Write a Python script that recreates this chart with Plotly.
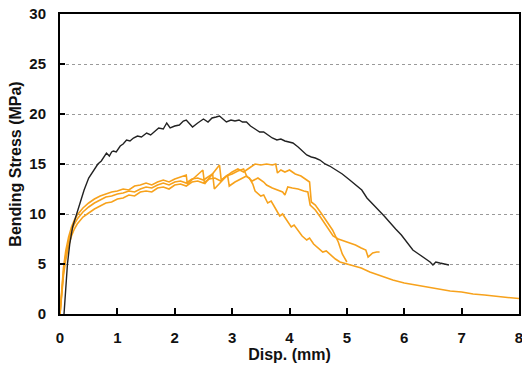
import plotly.graph_objects as go

# Black specimen curve
bx = [0.07,0.10,0.13,0.17,0.22,0.29,0.35,0.42,0.50,0.58,0.66,0.72,0.78,0.81,0.86,0.90,0.93,0.98,1.05,1.10,1.16,1.22,1.28,1.35,1.42,1.51,1.58,1.65,1.72,1.80,1.86,1.92,2.00,2.08,2.15,2.20,2.26,2.31,2.40,2.50,2.58,2.65,2.72,2.78,2.84,2.90,2.98,3.05,3.12,3.18,3.25,3.32,3.40,3.48,3.55,3.62,3.70,3.78,3.85,3.92,4.00,4.06,4.15,4.22,4.30,4.38,4.45,4.53,4.62,4.70,4.82,4.92,5.05,5.15,5.26,5.35,5.44,5.55,5.65,5.75,5.85,5.95,6.05,6.15,6.25,6.35,6.45,6.50,6.55,6.62,6.70,6.78]
by = [0.0,2.5,5.0,7.0,8.7,10.0,11.2,12.4,13.6,14.3,15.0,15.3,15.8,16.1,15.8,16.2,16.3,16.2,16.8,17.0,17.4,17.3,17.6,17.8,17.7,18.1,17.9,18.3,18.6,18.5,19.1,18.6,18.8,18.9,19.3,19.4,19.0,18.7,19.1,19.5,19.2,19.6,19.7,19.8,19.5,19.2,19.4,19.3,19.4,19.2,19.2,18.8,18.5,18.2,18.2,17.9,17.6,17.4,17.5,17.3,17.2,17.1,16.7,16.3,15.9,15.7,15.6,15.4,15.0,14.8,14.4,14.0,13.4,12.9,12.4,11.6,11.1,10.4,9.8,9.1,8.5,7.9,7.1,6.4,6.0,5.6,5.2,4.9,5.2,5.1,5.0,4.9]

# Orange specimen curves
o1x = [0,0.03,0.06,0.1,0.15,0.2,0.25,0.3,0.4,0.5,0.6,0.7,0.8,0.9,1.0,1.1,1.2,1.3,1.4,1.5,1.6,1.7,1.8,1.9,2.0,2.1,2.2,2.3,2.4,2.5,2.6,2.7,2.8,2.9,3.0,3.1,3.2,3.26,3.3,3.36,3.4,3.5,3.55,3.62,3.68,3.75,3.83,3.88,3.95,4.03,4.08,4.15,4.22,4.30,4.35,4.42,4.50,4.58,4.64,4.72,4.80,4.88,4.95,5.05,5.15,5.25,5.4,5.6,5.8,6.0,6.2,6.4,6.6,6.8,7.0,7.2,7.4,7.6,7.8,8.0]
o1y = [0,2.0,3.8,5.4,6.8,7.8,8.5,9.0,9.7,10.1,10.5,10.8,11.1,11.2,11.5,11.6,11.9,11.8,12.2,12.3,12.2,12.6,12.7,12.5,12.9,13.0,12.8,13.2,13.3,13.1,13.5,13.6,13.3,13.8,14.0,14.3,14.5,13.7,13.6,13.0,12.3,11.8,11.9,11.1,11.3,10.6,9.8,10.0,9.4,8.7,8.9,8.4,7.8,7.4,7.6,7.0,6.6,6.2,6.3,5.9,5.5,5.2,5.1,4.9,4.8,4.6,4.2,3.8,3.4,3.1,2.9,2.7,2.5,2.3,2.2,2.0,1.9,1.75,1.65,1.55]

o2x = [0,0.03,0.06,0.1,0.15,0.2,0.25,0.3,0.4,0.5,0.6,0.7,0.8,0.9,1.0,1.1,1.2,1.3,1.4,1.5,1.6,1.7,1.8,1.9,2.0,2.1,2.2,2.22,2.3,2.4,2.49,2.52,2.6,2.7,2.78,2.81,2.9,3.0,3.1,3.2,3.3,3.4,3.5,3.6,3.7,3.76,3.79,3.85,3.92,4.0,4.1,4.2,4.3,4.35,4.38,4.45,4.55,4.65,4.75,4.85,4.92,5.0]
o2y = [0,2.6,4.6,6.3,7.7,8.7,9.4,9.9,10.6,11.1,11.5,11.8,12.0,12.2,12.3,12.5,12.4,12.8,12.9,13.1,12.9,13.2,13.4,13.2,13.5,13.7,13.9,13.0,13.4,13.9,14.4,13.0,13.6,14.3,14.9,13.4,13.8,14.2,14.5,14.2,14.6,15.0,14.9,15.0,14.9,15.0,14.1,14.4,14.2,14.4,14.0,13.8,13.4,13.2,11.2,10.9,10.1,9.2,8.4,7.2,6.0,5.2]

o3x = [0,0.03,0.06,0.1,0.15,0.2,0.25,0.3,0.4,0.5,0.6,0.7,0.8,0.9,1.0,1.1,1.2,1.3,1.4,1.5,1.6,1.7,1.8,1.9,2.0,2.1,2.2,2.3,2.4,2.5,2.6,2.66,2.69,2.8,2.92,2.95,3.05,3.15,3.25,3.35,3.45,3.55,3.6,3.7,3.8,3.88,3.92,3.97,4.05,4.15,4.25,4.32,4.36,4.45,4.55,4.65,4.76,4.85,4.95,5.05,5.15,5.25,5.33,5.37,5.45,5.52,5.57]
o3y = [0,2.3,4.2,5.9,7.3,8.3,9.0,9.5,10.2,10.7,11.1,11.4,11.7,11.8,12.0,12.1,12.3,12.2,12.5,12.7,12.6,12.9,13.1,12.9,13.2,13.3,13.1,13.5,13.6,13.4,13.8,14.0,12.5,13.2,13.9,12.8,13.2,13.5,13.8,13.3,13.6,13.2,12.9,12.6,12.4,12.2,11.9,12.7,12.6,12.5,12.3,12.2,10.9,10.4,9.6,8.8,7.8,7.5,7.3,7.1,6.9,6.6,6.4,5.7,6.1,6.2,6.2]

x_ticks = [0, 1, 2, 3, 4, 5, 6, 7, 8]
y_ticks = [0, 5, 10, 15, 20, 25, 30]

ORANGE = "#F7A21C"
fig = go.Figure()
for xs, ys in [(o1x, o1y), (o2x, o2y), (o3x, o3y)]:
    fig.add_trace(go.Scatter(x=xs, y=ys, mode="lines",
                             line=dict(color=ORANGE, width=1.6), showlegend=False))
fig.add_trace(go.Scatter(x=bx, y=by, mode="lines",
                         line=dict(color="#222222", width=1.4), showlegend=False))

tickfont = dict(family="Liberation Sans, Arial, sans-serif", size=15, color="#111111")
titlefont = dict(family="Liberation Sans, Arial, sans-serif", size=16, color="#111111")
fig.update_layout(
    width=522, height=367,
    margin=dict(l=60, r=3, t=14, b=53),
    paper_bgcolor="white", plot_bgcolor="white",
    font=tickfont,
    showlegend=False,
)
fig.update_xaxes(
    range=[0, 8], tickvals=x_ticks, ticktext=[f"<b>{v}</b>" for v in x_ticks],
    tickfont=tickfont, automargin=False, ticklabeloverflow="allow",
    showline=True, linecolor="black", linewidth=2, mirror=True,
    ticks="inside", ticklen=6, tickwidth=2, tickcolor="black",
    showgrid=False, zeroline=False, ticklabelstandoff=9,
    title=dict(text="<b>Disp. (mm)</b>", standoff=3, font=titlefont),
)
fig.update_yaxes(
    range=[0, 30], tickvals=y_ticks, ticktext=[f"<b>{v}</b>" for v in y_ticks],
    tickfont=tickfont, automargin=False,
    showline=True, linecolor="black", linewidth=2, mirror=True,
    ticks="inside", ticklen=5, tickwidth=2, tickcolor="black",
    showgrid=True, gridcolor="#9a9a9a", gridwidth=1, griddash="dot",
    zeroline=False, ticklabelstandoff=9,
    title=dict(text="<b>Bending Stress (MPa)</b>", standoff=4, font=titlefont),
)
fig.write_html("out.html", config={"displayModeBar": False},
               post_script="document.body.style.margin='0';")
